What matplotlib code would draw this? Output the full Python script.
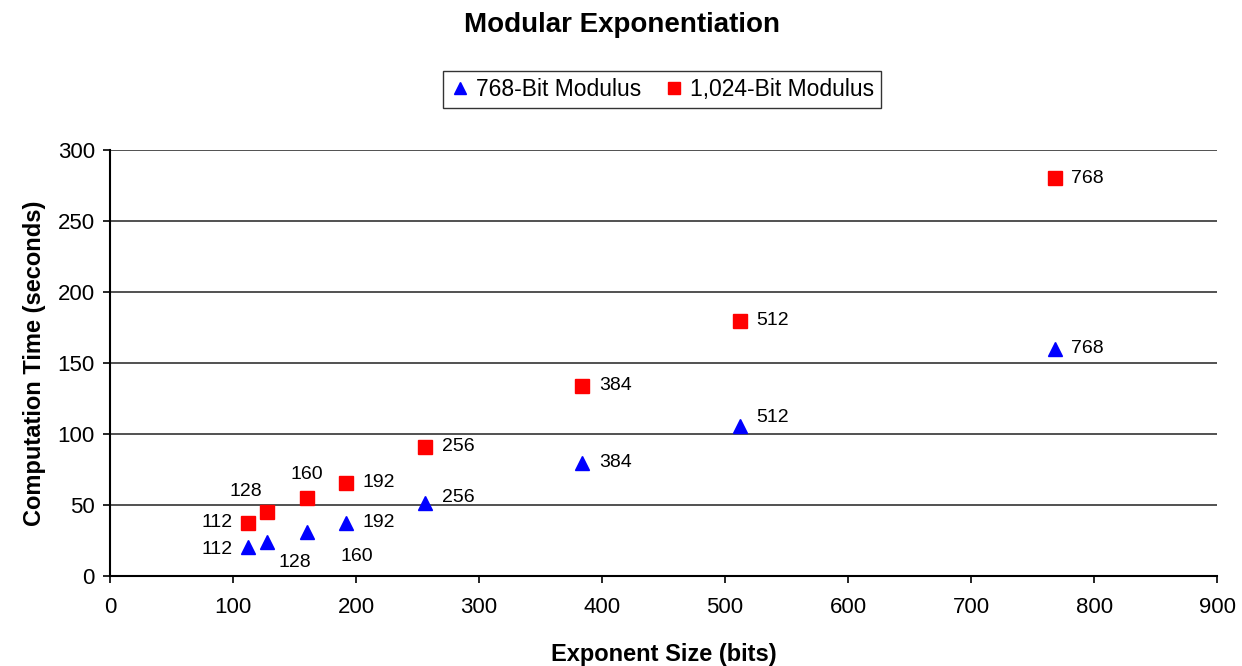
import matplotlib.pyplot as plt

plt.rcParams["font.family"] = ["Liberation Sans", "DejaVu Sans"]

exponent_bits = [112, 128, 160, 192, 256, 384, 512, 768]
time_768 = [20.6, 24, 30.7, 37.5, 51.6, 79.8, 105.8, 160]
time_1024 = [37.5, 45, 55, 65.7, 91, 134, 179.6, 280]

# label offsets (points) for each point label
offsets_768 = [(-11, -2, "right"), (8, -15, "left"), (24, -17, "left"), (12, 0, "left"),
               (12, 4, "left"), (12, 0, "left"), (12, 6, "left"), (12, 0, "left")]
offsets_1024 = [(-11, 0, "right"), (-4, 15, "right"), (0, 17, "center"), (12, 0, "left"),
                (12, 0, "left"), (12, 0, "left"), (12, 0, "left"), (12, 0, "left")]

fig = plt.figure(figsize=(12.42, 6.66), dpi=100)
ax = fig.add_axes([0.0886, 0.1351, 0.8914, 0.6397])

ax.plot(exponent_bits, time_768, "^", color="blue", markersize=10, label="768-Bit Modulus", clip_on=False)
ax.plot(exponent_bits, time_1024, "s", color="red", markersize=9.5, label="1,024-Bit Modulus", clip_on=False)

for x, y, (dx, dy, ha) in zip(exponent_bits, time_768, offsets_768):
    ax.annotate(str(x), (x, y), xytext=(dx, dy), textcoords="offset points",
                ha=ha, va="center", fontsize=14)
for x, y, (dx, dy, ha) in zip(exponent_bits, time_1024, offsets_1024):
    ax.annotate(str(x), (x, y), xytext=(dx, dy), textcoords="offset points",
                ha=ha, va="center", fontsize=14)

ax.set_xlim(0, 900)
ax.set_ylim(0, 300)
ax.set_xticks(range(0, 901, 100))
ax.set_yticks(range(0, 301, 50))
ax.tick_params(labelsize=16, direction="out", length=5, width=1.2, pad=6)
ax.tick_params(axis="x", pad=10)
ax.grid(axis="y", color="#333333", linewidth=1.2)
ax.set_axisbelow(True)
for s in ["top", "right"]:
    ax.spines[s].set_visible(False)
for s in ["left", "bottom"]:
    ax.spines[s].set_linewidth(1.5)

ax.set_xlabel("Exponent Size (bits)", fontsize=17, fontweight="bold", labelpad=18)
ax.set_ylabel("Computation Time (seconds)", fontsize=17, fontweight="bold", labelpad=8)

fig.text(0.501, 0.963, "Modular Exponentiation", ha="center", va="center",
         fontsize=20, fontweight="bold")
fig.legend(loc="center", bbox_to_anchor=(0.533, 0.866), ncol=2, fontsize=16.5,
           frameon=True, fancybox=False, edgecolor="black", handletextpad=0.25,
           columnspacing=1.0, borderpad=0.3, handlelength=0.9, markerscale=0.85)

plt.savefig("out.png", dpi=100)
